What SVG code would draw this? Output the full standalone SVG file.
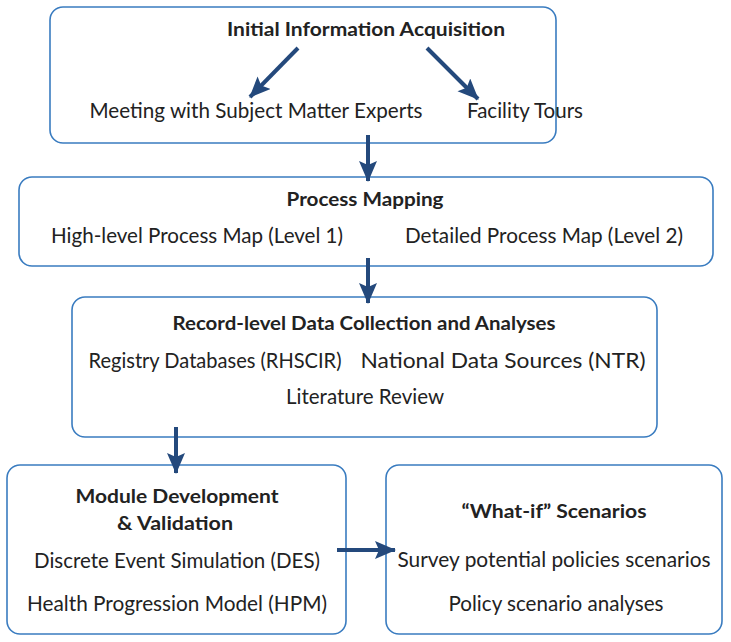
<svg xmlns="http://www.w3.org/2000/svg" width="731" height="642" viewBox="0 0 731 642">
<style>
.box{fill:#fff;stroke:#3a7cc0;stroke-width:1.6}
.t{font-family:Lato,"Open Sans","Liberation Sans",sans-serif;font-size:21px;fill:#222;text-anchor:middle}
.b{font-weight:bold;font-size:19.5px}
.c{stroke:#24497c;stroke-width:4;fill:none;marker-end:url(#ah)}
</style>
<defs>
<marker id="ah" markerUnits="userSpaceOnUse" markerWidth="24" markerHeight="20" refX="20" refY="9" orient="auto">
<path d="M0,0 L21,9 L0,18 L4,9 Z" fill="#24497c"/>
</marker>
</defs>
<rect width="731" height="642" fill="#fff"/>
<g id="n1">
<rect class="box" x="50" y="7" width="506" height="136" rx="13"/>
<text class="t b" x="366" y="36" textLength="278" lengthAdjust="spacingAndGlyphs">Initial Information Acquisition</text>
<text class="t" x="256" y="118" textLength="333" lengthAdjust="spacingAndGlyphs">Meeting with Subject Matter Experts</text>
<text class="t" x="525" y="118" textLength="116" lengthAdjust="spacingAndGlyphs">Facility Tours</text>
</g>
<g id="n2">
<rect class="box" x="19" y="177" width="694" height="89" rx="13"/>
<text class="t b" x="365" y="206" textLength="157" lengthAdjust="spacingAndGlyphs">Process Mapping</text>
<text class="t" x="197" y="243" textLength="292" lengthAdjust="spacingAndGlyphs">High-level Process Map (Level 1)</text>
<text class="t" x="544" y="243" textLength="278" lengthAdjust="spacingAndGlyphs">Detailed Process Map (Level 2)</text>
</g>
<g id="n3">
<rect class="box" x="72" y="297" width="585" height="140" rx="13"/>
<text class="t b" x="364" y="330" textLength="383" lengthAdjust="spacingAndGlyphs">Record-level Data Collection and Analyses</text>
<text class="t" x="215" y="368" textLength="253" lengthAdjust="spacingAndGlyphs">Registry Databases (RHSCIR)</text>
<text class="t" x="503" y="368" textLength="285" lengthAdjust="spacingAndGlyphs">National Data Sources (NTR)</text>
<text class="t" x="365" y="404" textLength="158" lengthAdjust="spacingAndGlyphs">Literature Review</text>
</g>
<g id="n4">
<rect class="box" x="7" y="465" width="339" height="169" rx="13"/>
<text class="t b" x="177" y="503" textLength="203" lengthAdjust="spacingAndGlyphs">Module Development</text>
<text class="t b" x="175" y="530" textLength="116" lengthAdjust="spacingAndGlyphs">&amp; Validation</text>
<text class="t" x="177" y="568" textLength="286" lengthAdjust="spacingAndGlyphs">Discrete Event Simulation (DES)</text>
<text class="t" x="177" y="611" textLength="300" lengthAdjust="spacingAndGlyphs">Health Progression Model (HPM)</text>
</g>
<g id="n5">
<rect class="box" x="386" y="465" width="336" height="169" rx="13"/>
<text class="t b" x="554" y="518" textLength="185" lengthAdjust="spacingAndGlyphs">“What-if” Scenarios</text>
<text class="t" x="554" y="567" textLength="313" lengthAdjust="spacingAndGlyphs">Survey potential policies scenarios</text>
<text class="t" x="556" y="611" textLength="215" lengthAdjust="spacingAndGlyphs">Policy scenario analyses</text>
</g>
<g id="connectors">
<line class="c" x1="298" y1="48" x2="250" y2="97"/>
<line class="c" x1="427" y1="48" x2="478" y2="99"/>
<line class="c" x1="368" y1="135" x2="368" y2="181"/>
<line class="c" x1="368" y1="258" x2="368" y2="303"/>
<line class="c" x1="176" y1="427" x2="176" y2="473"/>
<line class="c" x1="337" y1="550" x2="395" y2="550"/>
</g>
</svg>
